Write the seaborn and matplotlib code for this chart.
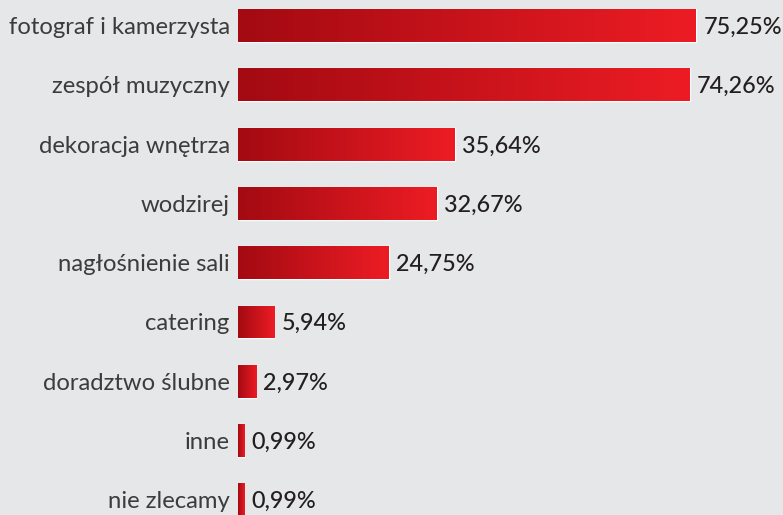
import numpy as np
import pandas as pd
import matplotlib
matplotlib.use("Agg")
import matplotlib.pyplot as plt
import seaborn as sns
from matplotlib.colors import LinearSegmentedColormap

# dane z wykresu
kategorie = ['fotograf i kamerzysta', 'zespół muzyczny', 'dekoracja wnętrza', 'wodzirej',
             'nagłośnienie sali', 'catering', 'doradztwo ślubne', 'inne', 'nie zlecamy']
procenty = [75.25, 74.26, 35.64, 32.67, 24.75, 5.94, 2.97, 0.99, 0.99]

tlo = '#e6e7e8'
sns.set_style("white")
plt.rcParams['font.family'] = ['Lato', 'DejaVu Sans']

df = pd.DataFrame({'kat': kategorie, 'proc': procenty})

fig = plt.figure(figsize=(7.83, 5.15), dpi=100, facecolor=tlo)
ax = fig.add_axes([238 / 783, 0, 545 / 783, 1])
ax.set_facecolor(tlo)

sns.barplot(data=df, y='kat', x='proc', orient='h', width=0.556, color='#ed1c24', ax=ax)

# gradient na kazdym slupku
cmap = LinearSegmentedColormap.from_list('czerwien', ['#a30a12', '#ed1c24'])
grad = np.linspace(0, 1, 256).reshape(1, -1)
for p in ax.patches:
    x0, y0 = p.get_x(), p.get_y()
    w, h = p.get_width(), p.get_height()
    im = ax.imshow(grad, cmap=cmap, aspect='auto', extent=[x0, x0 + w, y0 + h, y0], zorder=3)
    im.set_clip_path(p)
    p.set_facecolor('none')

for i, v in enumerate(procenty):
    ax.text(v + 1.2, i + 0.03, f"{v:.2f}".replace('.', ',') + '%', va='center', ha='left',
            fontsize=16.8, color='#231f20', fontweight='medium', zorder=4)

ax.set_xlim(0, 545 / 6.086)
ax.set_ylim((515 - 25.5) / 59.3, -25.5 / 59.3)
ax.set_xlabel('')
ax.set_ylabel('')
ax.set_xticks([])
ax.tick_params(axis='y', length=0, pad=6)
ax.set_yticks(range(len(kategorie)))
ax.set_yticklabels(kategorie, fontsize=17.2, color='#3c3c3e', fontweight='normal')
sns.despine(ax=ax, left=True, bottom=True)

fig.savefig('out.png', dpi=100, facecolor=tlo)
